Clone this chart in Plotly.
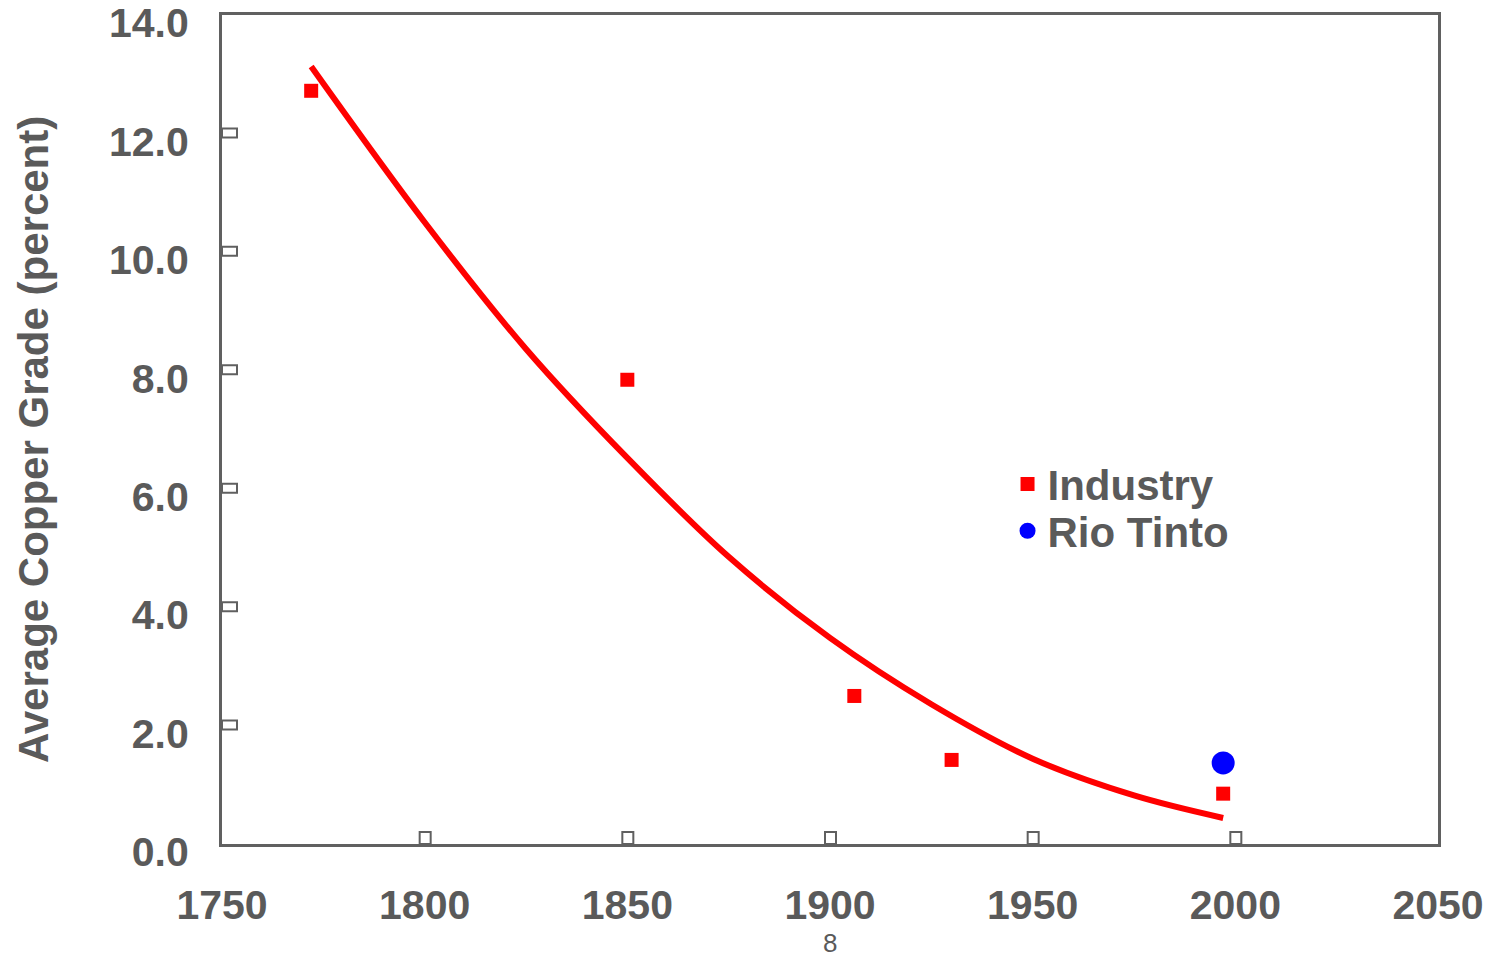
import plotly.graph_objects as go

# ---- data ----
industry_years = [1772, 1850, 1906, 1930, 1997]
industry_grade = [12.72, 7.84, 2.50, 1.42, 0.85]

rio_years = [1997]
rio_grade = [1.37]

trend_years = [1772, 1800, 1825, 1850, 1875, 1900, 1925, 1950, 1975, 1997]
trend_grade = [13.13, 10.50, 8.36, 6.52, 4.85, 3.48, 2.36, 1.44, 0.82, 0.44]

x_ticks = [1750, 1800, 1850, 1900, 1950, 2000, 2050]
y_ticks = [0, 2, 4, 6, 8, 10, 12, 14]
x_tick_boxes = [1800, 1850, 1900, 1950, 2000]
y_tick_boxes = [2, 4, 6, 8, 10, 12]

GRAY = "#5a5a5a"
AXIS = "#606060"
FONT = "Liberation Sans, Arial, sans-serif"

fig = go.Figure()

fig.add_trace(go.Scatter(
    x=trend_years, y=trend_grade, mode="lines",
    line=dict(color="#ff0000", width=6, shape="spline"),
    showlegend=False, hoverinfo="skip"))

fig.add_trace(go.Scatter(
    x=industry_years, y=industry_grade, mode="markers", name="<b>Industry</b>",
    marker=dict(symbol="square", size=14, color="#ff0000"), legend="legend"))

fig.add_trace(go.Scatter(
    x=rio_years, y=rio_grade, mode="markers", name="<b>Rio Tinto</b>",
    marker=dict(symbol="circle", size=23, color="#0000ff"), legend="legend2"))

shapes = []
for v in y_tick_boxes:
    shapes.append(dict(type="rect", xref="x", yref="y",
                       xsizemode="pixel", ysizemode="pixel",
                       xanchor=x_ticks[0], yanchor=v,
                       x0=0, x1=15, y0=-4, y1=5,
                       line=dict(color=AXIS, width=2), fillcolor="white"))
for v in x_tick_boxes:
    shapes.append(dict(type="rect", xref="x", yref="y",
                       xsizemode="pixel", ysizemode="pixel",
                       xanchor=v, yanchor=y_ticks[0],
                       x0=-5, x1=6, y0=0, y1=12,
                       line=dict(color=AXIS, width=2), fillcolor="white"))

legend_font = dict(family=FONT, size=42, color=GRAY, weight="bold")

# the page body adds an 8px offset, so the figure is sized to compensate
fig.update_layout(
    width=1483, height=949,
    margin=dict(l=214, r=53, t=7, b=113, autoexpand=False),
    paper_bgcolor="white", plot_bgcolor="white",
    font=dict(family=FONT, color=GRAY),
    shapes=shapes,
    showlegend=True,
    legend=dict(x=0.646, y=0.475, xanchor="left", yanchor="top",
                bgcolor="rgba(0,0,0,0)", font=legend_font, itemwidth=30),
    legend2=dict(x=0.646, y=0.4186, xanchor="left", yanchor="top",
                 bgcolor="rgba(0,0,0,0)", font=legend_font, itemwidth=30),
    annotations=[
        dict(text="8", x=0.5, y=-0.1194, xref="paper", yref="paper",
             yanchor="middle", xanchor="center", showarrow=False,
             font=dict(family=FONT, size=26, color=GRAY)),
        dict(text="<b>Average Copper Grade (percent)</b>", textangle=-90,
             x=-0.1554, y=0.4873, xref="paper", yref="paper",
             xanchor="center", yanchor="middle", showarrow=False,
             font=dict(family=FONT, size=42, color=GRAY)),
    ],
)

fig.update_xaxes(
    range=[1750, 2050], tickvals=x_ticks, ticktext=[str(v) for v in x_ticks],
    showgrid=False, zeroline=False, automargin=False,
    showline=True, linecolor=AXIS, linewidth=3, mirror=True,
    ticks="", ticklabelstandoff=23, ticklabeloverflow="allow",
    tickfont=dict(family=FONT, size=41, color=GRAY, weight="bold"))

fig.update_yaxes(
    range=[0, 14], tickvals=y_ticks, ticktext=[f"{v:.1f}" for v in y_ticks],
    showgrid=False, zeroline=False, automargin=False,
    showline=True, linecolor=AXIS, linewidth=3, mirror=True,
    ticks="", ticklabelstandoff=22, ticklabelshift=8, ticklabeloverflow="allow",
    tickfont=dict(family=FONT, size=41, color=GRAY, weight="bold"))

fig.write_html("out.html")
